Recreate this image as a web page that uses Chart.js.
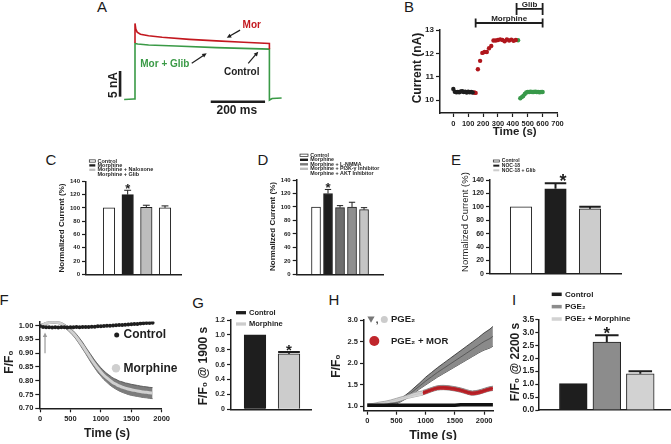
<!DOCTYPE html>
<html>
<head>
<meta charset="utf-8">
<title>Morphine KATP figure</title>
<script src="https://cdn.jsdelivr.net/npm/chart.js@4.4.1/dist/chart.umd.min.js"></script>
<style>
  html, body { margin: 0; padding: 0; background: #fff; }
  #fig { position: relative; width: 671px; height: 444px; overflow: hidden; background: #fff;
         font-family: "Liberation Sans", Arial, sans-serif; }
  #fig canvas { position: absolute; }
  .tag { position: absolute; width: 20px; text-align: center; font-size: 15px; line-height: 1; color: #1a1a1a; }
</style>
</head>
<body>
<div id="fig">
  <div class="tag" style="left:92px;top:-1px">A</div>
  <div class="tag" style="left:399px;top:-1px">B</div>
  <div class="tag" style="left:41px;top:152px">C</div>
  <div class="tag" style="left:253px;top:152px">D</div>
  <div class="tag" style="left:446px;top:152px">E</div>
  <div class="tag" style="left:-6px;top:292px">F</div>
  <div class="tag" style="left:188px;top:295px">G</div>
  <div class="tag" style="left:324px;top:292px">H</div>
  <div class="tag" style="left:504px;top:292px">I</div>
</div>
<script>
const FONT = '"Liberation Sans", Arial, sans-serif';
const INK = '#1e1e1e';
const RED = '#c3181f';
const GREEN = '#3a9a46';

// ===== A: example traces (time ms, current nA) =====
const aMorTime = [0, 0, 3, 8, 20, 50, 100, 200, 300, 400, 495, 495];
const aMorCurrent = [10.9, 14.7, 13.6, 13.0, 12.6, 12.3, 12.0, 11.6, 11.3, 11.05, 10.8, 9.7];
const aGlibTime = [-40, -5, 0, 0, 10, 50, 150, 300, 495, 495, 505, 540];
const aGlibCurrent = [-0.1, 0, 0, 10.8, 10.7, 10.5, 10.3, 10.0, 9.7, -0.2, 0.1, 0.2];
const aScaleTime = [279, 479];      // 200 ms bar
const aScaleCurrent = [0.45, 5.45]; // 5 nA bar

// ===== B: current vs time =====
const bCtrlTime = [0, 10, 20, 30, 40, 50, 60, 70, 80, 90, 100, 110, 120, 130];
const bCtrlCurrent = [10.48, 10.36, 10.34, 10.35, 10.34, 10.37, 10.38, 10.35, 10.36, 10.33, 10.36, 10.34, 10.35, 10.33];
const bMorTime = [140, 150, 165, 180, 195, 210, 225, 240, 255, 270, 285, 300, 315, 330, 345, 360, 375, 390, 405, 420];
const bMorCurrent = [10.33, 10.31, 11.32, 11.68, 12.02, 12.06, 12.06, 12.22, 12.32, 12.55, 12.55, 12.57, 12.60, 12.57, 12.52, 12.60, 12.55, 12.59, 12.54, 12.57];
const bGlibTime = [435, 450, 460, 470, 480, 490, 500, 510, 520, 530, 540, 550, 560, 570, 580, 590, 600];
const bGlibCurrent = [12.56, 10.08, 10.13, 10.18, 10.26, 10.33, 10.35, 10.35, 10.36, 10.35, 10.35, 10.36, 10.35, 10.35, 10.34, 10.35, 10.35];
const bMorphineWindow = [150, 600];
const bGlibWindow = [425, 600];
const bXTicks = [0, 100, 200, 300, 400, 500, 600, 700];
const bYTicks = [10, 11, 12, 13];

// ===== C, D, E: normalized current (%) =====
const normTicks = [0, 20, 40, 60, 80, 100, 120, 140];
const cGroups = ['Control', 'Morphine', 'Morphine + Naloxone', 'Morphine + Glib'];
const cValues = [100, 120, 101, 100];
const cErrors = [0, 6.5, 3, 3];
const cStars = [false, true, false, false];
const dGroups = ['Control', 'Morphine', 'Morphine + L-NMMA', 'Morphine + PI3K-γ Inhibitor', 'Morphine + AKT Inhibitor'];
const dValues = [100, 120, 99, 100, 96];
const dErrors = [0, 6, 3, 7, 3];
const dStars = [false, true, false, false, false];
const eGroups = ['Control', 'NOC-18', 'NOC-18 + Glib'];
const eValues = [100, 127, 97];
const eErrors = [0, 8, 3];
const eStars = [false, true, false];

// ===== F: F/F0 time course =====
const fTime = [0, 50, 100, 150, 200, 250, 300, 350, 400, 450, 500, 550, 600, 650, 700, 750, 800, 850, 900, 950,
  1000, 1050, 1100, 1150, 1200, 1250, 1300, 1350, 1400, 1450, 1500, 1550, 1600, 1650, 1700, 1750, 1800, 1850];
const fControl = [0.998, 0.995, 0.994, 0.994, 0.993, 0.994, 0.993, 0.994, 0.994, 0.993, 0.994, 0.994, 0.995, 0.994, 0.995, 0.995, 0.995, 0.996, 0.996, 0.997,
  0.997, 0.998, 0.999, 0.999, 1.000, 1.001, 1.002, 1.002, 1.003, 1.004, 1.005, 1.006, 1.006, 1.007, 1.008, 1.009, 1.009, 1.010];
const fMorphine = [1.000, 1.003, 1.008, 1.011, 1.012, 1.012, 1.011, 1.006, 0.999, 0.991, 0.982, 0.971, 0.958, 0.943, 0.927, 0.910, 0.893, 0.876, 0.860, 0.845,
  0.832, 0.820, 0.810, 0.801, 0.793, 0.787, 0.781, 0.777, 0.773, 0.770, 0.767, 0.765, 0.763, 0.761, 0.759, 0.758, 0.756, 0.755];
const fMorphineSem = [0.004, 0.004, 0.004, 0.004, 0.004, 0.004, 0.004, 0.005, 0.006, 0.007, 0.008, 0.009, 0.010, 0.011, 0.012, 0.012, 0.013, 0.014, 0.014, 0.015,
  0.015, 0.016, 0.016, 0.017, 0.017, 0.018, 0.018, 0.019, 0.019, 0.020, 0.020, 0.020, 0.020, 0.020, 0.020, 0.020, 0.020, 0.020];
const fXTicks = [0, 500, 1000, 1500, 2000];
const fYTicks = [0.70, 0.75, 0.80, 0.85, 0.90, 0.95, 1.00];

// ===== G: F/F0 @ 1900 s =====
const gGroups = ['Control', 'Morphine'];
const gValues = [1.0, 0.745];
const gErrors = [0, 0.025];
const gStars = [false, true];
const gTicks = [0, 0.2, 0.4, 0.6, 0.8, 1.0, 1.2];
const gTickLabels = ['0', '0.2', '0.4', '0.6', '0.8', '1.0', '1.2'];

// ===== H: PGE2 time course =====
const hTime = [0, 100, 200, 300, 400, 500, 600, 700, 800, 900, 1000, 1100, 1200, 1300, 1400, 1500, 1600, 1700, 1800, 1900, 2000, 2100, 2150];
const hPge = [1.02, 1.02, 1.02, 1.03, 1.05, 1.08, 1.16, 1.25, 1.36, 1.47, 1.58, 1.68, 1.78, 1.87, 1.96, 2.05, 2.14, 2.23, 2.32, 2.41, 2.50, 2.57, 2.62];
const hPgeSem = [0.02, 0.02, 0.02, 0.02, 0.03, 0.03, 0.04, 0.05, 0.06, 0.07, 0.09, 0.10, 0.11, 0.12, 0.13, 0.14, 0.15, 0.16, 0.17, 0.18, 0.20, 0.22, 0.23];
const hControl = [1.02, 1.02, 1.02, 1.02, 1.02, 1.02, 1.02, 1.02, 1.02, 1.02, 1.02, 1.02, 1.02, 1.02, 1.02, 1.02, 1.03, 1.03, 1.03, 1.03, 1.03, 1.03, 1.03];
const hPgeEarlyTime = [0, 100, 200, 300, 400, 500, 600, 700, 800, 900, 950];
const hPgeEarly = [1.03, 1.04, 1.06, 1.08, 1.11, 1.14, 1.18, 1.22, 1.26, 1.29, 1.30];
const hPgeEarlySem = [0.02, 0.02, 0.03, 0.03, 0.03, 0.04, 0.04, 0.04, 0.05, 0.05, 0.05];
const hMorTime = [950, 1000, 1100, 1200, 1300, 1400, 1500, 1600, 1700, 1800, 1900, 2000, 2100, 2150];
const hMor = [1.31, 1.33, 1.38, 1.42, 1.43, 1.42, 1.40, 1.37, 1.33, 1.30, 1.32, 1.36, 1.40, 1.41];
const hMorSem = [0.05, 0.05, 0.05, 0.05, 0.05, 0.05, 0.05, 0.05, 0.05, 0.05, 0.05, 0.05, 0.05, 0.05];
const hXTicks = [0, 500, 1000, 1500, 2000];
const hYTicks = [1.0, 1.5, 2.0, 2.5, 3.0];

// ===== I: F/F0 @ 2200 s =====
const iGroups = ['Control', 'PGE₂', 'PGE₂ + Morphine'];
const iValues = [1.02, 2.62, 1.40];
const iErrors = [0, 0.26, 0.1];
const iStars = [false, true, false];
const iTicks = [0, 0.5, 1.0, 1.5, 2.0, 2.5, 3.0, 3.5];

// ---------- helpers ----------
const fig = document.getElementById('fig');
const fnt = (s, w = 'bold') => `${w} ${s}px ${FONT}`;
const pts = (xs, ys) => xs.map((x, i) => ({ x, y: ys[i] }));
const band = (xs, m, e, sign) => xs.map((x, i) => ({ x, y: m[i] + sign * e[i] }));
const bars = vals => vals.map((y, i) => ({ x: i, y }));

Chart.defaults.font.family = FONT;
Chart.defaults.color = INK;

// free text, arrows, brackets, markers (page px or data coords)
const notes = {
  id: 'notes',
  afterDraw(chart, args, opts) {
    const ctx = chart.ctx, sx = chart.scales.x, sy = chart.scales.y;
    const ox = chart.canvas.offsetLeft, oy = chart.canvas.offsetTop;
    const pt = (it, x, y) => it.data ? [sx.getPixelForValue(x), sy.getPixelForValue(y)] : [x - ox, y - oy];
    (opts.items || []).forEach(it => {
      ctx.save();
      const col = it.color || INK;
      ctx.fillStyle = col;
      ctx.strokeStyle = col;
      ctx.lineWidth = it.width || 1.2;
      const [x, y] = pt(it, it.x, it.y);
      if (it.kind === 'text') {
        ctx.font = it.font;
        ctx.textAlign = it.align || 'center';
        ctx.textBaseline = 'middle';
        ctx.translate(x, y);
        if (it.rotate) ctx.rotate(it.rotate);
        ctx.fillText(it.text, 0, 0);
      } else if (it.kind === 'arrow') {
        const [x2, y2] = pt(it, it.x2, it.y2);
        const a = Math.atan2(y2 - y, x2 - x), h = it.head || 5;
        ctx.beginPath();
        ctx.moveTo(x, y);
        ctx.lineTo(x2 - Math.cos(a) * h * 0.6, y2 - Math.sin(a) * h * 0.6);
        ctx.stroke();
        ctx.beginPath();
        ctx.moveTo(x2, y2);
        ctx.lineTo(x2 - h * Math.cos(a - 0.45), y2 - h * Math.sin(a - 0.45));
        ctx.lineTo(x2 - h * Math.cos(a + 0.45), y2 - h * Math.sin(a + 0.45));
        ctx.closePath();
        ctx.fill();
      } else if (it.kind === 'bracket') {
        const [x2] = pt(it, it.x2, it.y);
        const t = it.tick || 4;
        ctx.beginPath();
        ctx.moveTo(x, y); ctx.lineTo(x2, y);
        ctx.moveTo(x, y - t); ctx.lineTo(x, y + t);
        ctx.moveTo(x2, y - t); ctx.lineTo(x2, y + t);
        ctx.stroke();
      } else if (it.kind === 'dot') {
        ctx.beginPath();
        ctx.arc(x, y, it.r, 0, Math.PI * 2);
        ctx.fill();
      } else if (it.kind === 'tri') {
        const r = it.r;
        ctx.beginPath();
        ctx.moveTo(x - r, y - r * 0.8);
        ctx.lineTo(x + r, y - r * 0.8);
        ctx.lineTo(x, y + r * 0.9);
        ctx.closePath();
        ctx.fill();
      } else if (it.kind === 'swatch') {
        ctx.fillRect(x, y - it.h / 2, it.w, it.h);
        if (it.outline) {
          ctx.lineWidth = 0.7;
          ctx.strokeStyle = INK;
          ctx.strokeRect(x, y - it.h / 2, it.w, it.h);
        }
      }
      ctx.restore();
    });
  }
};

// SEM bars + significance stars on bar datasets
const errorBars = {
  id: 'errorBars',
  afterDatasetsDraw(chart, args, opts) {
    const ctx = chart.ctx, sy = chart.scales.y;
    chart.data.datasets.forEach((ds, di) => {
      if (!ds.errors) return;
      chart.getDatasetMeta(di).data.forEach((bar, i) => {
        const v = ds.data[i].y, e = ds.errors[i];
        const top = sy.getPixelForValue(v + e);
        ctx.save();
        ctx.strokeStyle = INK;
        ctx.lineWidth = opts.lineWidth || 1.2;
        if (e > 0) {
          const half = bar.width * (opts.cap || 0.6) / 2;
          ctx.beginPath();
          ctx.moveTo(bar.x, bar.y);
          ctx.lineTo(bar.x, top);
          ctx.moveTo(bar.x - half, top);
          ctx.lineTo(bar.x + half, top);
          ctx.stroke();
        }
        if (ds.stars && ds.stars[i]) {
          const s = opts.starSize || 12;
          ctx.fillStyle = INK;
          ctx.font = fnt(s);
          ctx.textAlign = 'center';
          ctx.textBaseline = 'alphabetic';
          ctx.fillText('*', bar.x + (opts.starDx || 0), top - (opts.starGap || 3) + 0.42 * s);
        }
        ctx.restore();
      });
    });
  }
};

Chart.register(notes, errorBars);

function axis(min, max, values, labels, size, extra) {
  return Object.assign({
    type: 'linear', min, max,
    afterBuildTicks: s => { s.ticks = values.map(v => ({ value: v })); },
    ticks: { callback: (v, i) => labels[i], font: { family: FONT, size, weight: 'bold' }, color: INK,
             padding: 2, maxRotation: 0, autoSkip: false },
    grid: { drawOnChartArea: false, color: INK, tickColor: INK, tickLength: 4, tickWidth: 1.2 },
    border: { color: INK, width: 1.5 }
  }, extra || {});
}

function barAxis(min, max) {
  return { type: 'linear', min, max, offset: false, ticks: { display: false },
           grid: { display: false, offset: false }, border: { color: INK, width: 1.5 } };
}

function legendItems(labels, colors, k) {
  const out = [];
  labels.forEach((lab, i) => {
    const y = k.y + i * k.dy;
    if (colors[i]) out.push({ kind: 'swatch', x: k.x, y, w: k.w, h: k.h, color: colors[i], outline: colors[i] === '#ffffff' });
    out.push({ kind: 'text', text: lab, x: k.x + k.w + k.gap, y, align: 'left', font: k.font });
  });
  return out;
}

function addChart(box, plot, config) {
  const cv = document.createElement('canvas');
  cv.width = box.w;
  cv.height = box.h;
  cv.style.left = box.x + 'px';
  cv.style.top = box.y + 'px';
  cv.style.width = box.w + 'px';
  cv.style.height = box.h + 'px';
  fig.appendChild(cv);
  const o = config.options;
  o.responsive = false;
  o.animation = false;
  o.layout = { padding: { left: 0, top: plot.t - box.y, right: box.x + box.w - plot.r, bottom: 0 } };
  if (o.scales.y.display !== false) o.scales.y.afterFit = s => { s.width = plot.l - box.x; };
  if (o.scales.x.display !== false) o.scales.x.afterFit = s => { s.height = box.y + box.h - plot.b; };
  o.plugins = Object.assign({ legend: { display: false }, tooltip: { enabled: false } }, o.plugins || {});
  return new Chart(cv, config);
}

function barPanel(box, plot, xr, yAxis, values, errors, stars, colors, thick, errOpts, items) {
  return addChart(box, plot, {
    type: 'bar',
    data: { datasets: [{ data: bars(values), errors, stars, backgroundColor: colors,
                         borderColor: INK, borderWidth: 1, barThickness: thick, grouped: false }] },
    options: { scales: { x: barAxis(xr[0], xr[1]), y: yAxis },
               plugins: { errorBars: errOpts, notes: { items } } }
  });
}

// ---------- A ----------
addChart({ x: 100, y: 0, w: 200, h: 125 }, { l: 100, t: 0, r: 300, b: 125 }, {
  type: 'line',
  data: { datasets: [
    { data: pts(aMorTime, aMorCurrent), borderColor: RED, borderWidth: 1.6, pointRadius: 0 },
    { data: pts(aGlibTime, aGlibCurrent), borderColor: GREEN, borderWidth: 1.6, pointRadius: 0 },
    { data: aScaleCurrent.map(y => ({ x: -55, y })), borderColor: INK, borderWidth: 2.6, pointRadius: 0 },
    { data: aScaleTime.map(x => ({ x, y: -0.53 })), borderColor: INK, borderWidth: 2.6, pointRadius: 0 }
  ] },
  options: {
    scales: { x: { type: 'linear', display: false, min: -128.9, max: 607.7 },
              y: { type: 'linear', display: false, min: -5.06, max: 19.26 } },
    plugins: { notes: { items: [
      { kind: 'text', data: true, text: 'Mor', x: 430, y: 14.4, color: RED, font: fnt(10) },
      { kind: 'arrow', data: true, x: 387, y: 13.4, x2: 338, y2: 11.9 },
      { kind: 'text', data: true, text: 'Mor + Glib', x: 110, y: 6.75, color: GREEN, font: fnt(10) },
      { kind: 'arrow', data: true, x: 209, y: 6.95, x2: 264, y2: 8.9 },
      { kind: 'text', data: true, text: 'Control', x: 393, y: 5.3, font: fnt(10) },
      { kind: 'arrow', data: true, x: 417, y: 6.95, x2: 454, y2: 9.2 },
      { kind: 'text', data: true, text: '5 nA', x: -80, y: 2.7, rotate: -Math.PI / 2, font: fnt(12) },
      { kind: 'text', data: true, text: '200 ms', x: 375, y: -2.33, font: fnt(12) }
    ] } }
  }
});

// ---------- B ----------
addChart({ x: 405, y: 0, w: 170, h: 140 }, { l: 440, t: 30, r: 557.5, b: 113 }, {
  type: 'scatter',
  data: { datasets: [
    { data: pts(bCtrlTime, bCtrlCurrent), backgroundColor: INK, pointRadius: 2.2, borderWidth: 0 },
    { data: pts(bMorTime, bMorCurrent), backgroundColor: '#b0161c', pointRadius: 2.2, borderWidth: 0 },
    { data: pts(bGlibTime, bGlibCurrent), backgroundColor: '#38994a', pointRadius: 2.2, borderWidth: 0 }
  ] },
  options: {
    scales: {
      x: axis(-89.5, 700, bXTicks, bXTicks.map(String), 7.5),
      y: axis(9.45, 13, bYTicks, bYTicks.map(String), 8, {})
    },
    plugins: { notes: { items: [
      { kind: 'bracket', data: true, x: bMorphineWindow[0], x2: bMorphineWindow[1], y: 13.30, tick: 4.5, width: 1.8 },
      { kind: 'bracket', data: true, x: bGlibWindow[0], x2: bGlibWindow[1], y: 13.9, tick: 6, width: 1.8 },
      { kind: 'text', data: true, text: 'Morphine', x: (bMorphineWindow[0] + bMorphineWindow[1]) / 2, y: 13.48, font: fnt(8) },
      { kind: 'text', data: true, text: 'Glib', x: (bGlibWindow[0] + bGlibWindow[1]) / 2, y: 14.09, font: fnt(8) },
      { kind: 'text', text: 'Current (nA)', x: 418, y: 68, rotate: -Math.PI / 2, font: fnt(12) },
      { kind: 'text', text: 'Time (s)', x: 514.7, y: 131.7, font: fnt(11.5) }
    ] } }
  }
});

// ---------- C ----------
barPanel({ x: 40, y: 150, w: 150, h: 130 }, { l: 86, t: 181.3, r: 181, b: 276 }, [-1.232, 3.857],
  axis(0, 140, normTicks, normTicks.map(String), 6),
  cValues, cErrors, cStars, ['#ffffff', '#1e1e1e', '#bdbdbd', '#ffffff'], 11.5,
  { cap: 0.6, lineWidth: 1, starSize: 13, starGap: 2.8 },
  [{ kind: 'text', text: 'Normalized Current (%)', x: 62, y: 228, rotate: -Math.PI / 2, font: fnt(8) }]
    .concat(legendItems(cGroups, ['#ffffff', '#1e1e1e', '#bdbdbd', null],
      { x: 89.3, y: 161, dy: 4.4, w: 6, h: 2.3, gap: 2.2, font: fnt(5.5) })));

// ---------- D ----------
barPanel({ x: 250, y: 150, w: 140, h: 130 }, { l: 296.7, t: 180, r: 383, b: 275.7 }, [-1.608, 5.58],
  axis(0, 140, normTicks, normTicks.map(String), 6),
  dValues, dErrors, dStars, ['#ffffff', '#1e1e1e', '#6e6e6e', '#8f8f8f', '#c4c4c4'], 9,
  { cap: 0.7, lineWidth: 1, starSize: 13, starGap: 3 },
  [{ kind: 'text', text: 'Normalized Current (%)', x: 273, y: 226.5, rotate: -Math.PI / 2, font: fnt(8) }]
    .concat(legendItems(dGroups, ['#ffffff', '#1e1e1e', '#7a7a7a', '#bdbdbd', null],
      { x: 300, y: 155.3, dy: 4.5, w: 8, h: 2.4, gap: 2.2, font: fnt(5.3) })));

// ---------- E ----------
barPanel({ x: 455, y: 150, w: 175, h: 130 }, { l: 490, t: 180, r: 621.7, b: 275.7 }, [-0.899, 2.919],
  axis(0, 140, normTicks, normTicks.map(String), 7),
  eValues, eErrors, eStars, ['#ffffff', '#1e1e1e', '#cccccc'], 21.5,
  { cap: 1.0, lineWidth: 2, starSize: 18, starGap: 4.3, starDx: 7.5 },
  [{ kind: 'text', text: 'Normalized Current (%)', x: 465, y: 222, rotate: -Math.PI / 2, font: fnt(9.5, 'normal') }]
    .concat(legendItems(eGroups, ['#ffffff', '#1e1e1e', '#cccccc'],
      { x: 493.3, y: 161, dy: 4.65, w: 6, h: 2, gap: 2.5, font: fnt(5) })));

// ---------- F ----------
addChart({ x: 0, y: 290, w: 190, h: 150 }, { l: 39.3, t: 321.4, r: 161.7, b: 408.3 }, {
  type: 'line',
  data: { datasets: [
    { data: band(fTime, fMorphine, fMorphineSem, -1), borderColor: '#4a4a4a', borderWidth: 0.8, pointRadius: 0, tension: 0.3, order: 3 },
    { data: band(fTime, fMorphine, fMorphineSem, 1), borderColor: '#4a4a4a', borderWidth: 0.8, pointRadius: 0, tension: 0.3,
      fill: '-1', backgroundColor: '#7c7c7c', order: 2 },
    { data: pts(fTime, fMorphine), borderColor: '#d0d0d0', borderWidth: 3, pointRadius: 0, tension: 0.3, order: 1 },
    { data: pts(fTime, fControl), showLine: false, pointRadius: 2, pointBackgroundColor: INK, pointBorderWidth: 0, order: 0 }
  ] },
  options: {
    scales: {
      x: axis(-12, 2000, fXTicks, fXTicks.map(String), 7.5, {}),
      y: axis(0.70, 1.015, fYTicks, fYTicks.map(v => v.toFixed(2)), 7.5, {})
    },
    plugins: { notes: { items: [
      { kind: 'arrow', data: true, x: 82, y: 0.90, x2: 82, y2: 0.975, color: '#9a9a9a', head: 5, width: 1.2 },
      { kind: 'dot', x: 116.7, y: 335, r: 2.5, color: INK },
      { kind: 'text', text: 'Control', x: 123.5, y: 335, align: 'left', font: fnt(12) },
      { kind: 'dot', x: 116, y: 368.3, r: 4.2, color: '#cfcfcf' },
      { kind: 'text', text: 'Morphine', x: 123.5, y: 368.3, align: 'left', font: fnt(12) },
      { kind: 'text', text: 'F/F₀', x: 10, y: 362, rotate: -Math.PI / 2, font: fnt(12) },
      { kind: 'text', text: 'Time (s)', x: 107, y: 434, font: fnt(12) }
    ] } }
  }
});

// ---------- G ----------
barPanel({ x: 195, y: 290, w: 125, h: 150 }, { l: 231, t: 320, r: 311.7, b: 409.3 }, [-0.706, 1.668],
  axis(0, 1.2, gTicks, gTickLabels, 7),
  gValues, gErrors, gStars, ['#1e1e1e', '#cccccc'], 21.7,
  { cap: 1.0, lineWidth: 2, starSize: 15, starGap: 3.4 },
  [{ kind: 'text', text: 'F/F₀ @ 1900 s', x: 204, y: 366, rotate: -Math.PI / 2, font: fnt(12) }]
    .concat(legendItems(gGroups, ['#1e1e1e', '#cccccc'],
      { x: 236, y: 312.7, dy: 11.3, w: 10, h: 3.3, gap: 3, font: fnt(7.5) })));

// ---------- H ----------
addChart({ x: 330, y: 290, w: 175, h: 150 }, { l: 364, t: 320, r: 493.3, b: 410.7 }, {
  type: 'line',
  data: { datasets: [
    { data: band(hTime, hPge, hPgeSem, -1), borderColor: '#262626', borderWidth: 0.8, pointRadius: 0, cubicInterpolationMode: 'monotone', order: 9 },
    { data: band(hTime, hPge, hPgeSem, 1), borderColor: '#262626', borderWidth: 0.8, pointRadius: 0, cubicInterpolationMode: 'monotone',
      fill: '-1', backgroundColor: '#8a8a8a', order: 8 },
    { data: pts(hTime, hPge), borderColor: '#4d4d4d', borderWidth: 0.8, pointRadius: 0, cubicInterpolationMode: 'monotone', order: 7 },
    { data: band(hPgeEarlyTime, hPgeEarly, hPgeEarlySem, -1), borderColor: '#9a9a9a', borderWidth: 0.8, pointRadius: 0, cubicInterpolationMode: 'monotone', order: 6 },
    { data: band(hPgeEarlyTime, hPgeEarly, hPgeEarlySem, 1), borderColor: '#9a9a9a', borderWidth: 0.8, pointRadius: 0, cubicInterpolationMode: 'monotone',
      fill: '-1', backgroundColor: '#d4d4d4', order: 5 },
    { data: pts(hPgeEarlyTime, hPgeEarly), borderColor: '#c8c8c8', borderWidth: 1, pointRadius: 0, cubicInterpolationMode: 'monotone', order: 4 },
    { data: band(hMorTime, hMor, hMorSem, -1), borderColor: '#8a8a8a', borderWidth: 1, pointRadius: 0, cubicInterpolationMode: 'monotone', order: 3 },
    { data: band(hMorTime, hMor, hMorSem, 1), borderColor: '#8a8a8a', borderWidth: 1, pointRadius: 0, cubicInterpolationMode: 'monotone',
      fill: '-1', backgroundColor: '#c0262c', order: 2 },
    { data: pts(hMorTime, hMor), borderColor: '#b01e24', borderWidth: 1.5, pointRadius: 0, cubicInterpolationMode: 'monotone', order: 1 },
    { data: pts(hTime, hControl), borderColor: '#111111', borderWidth: 3.5, pointRadius: 0, order: 0 }
  ] },
  options: {
    scales: {
      x: axis(-56, 2157, hXTicks, hXTicks.map(String), 7.5, {}),
      y: axis(0.891, 3.0, hYTicks, hYTicks.map(v => v.toFixed(1)), 7.5, {})
    },
    plugins: { notes: { items: [
      { kind: 'tri', x: 371, y: 319.5, r: 3.6, color: '#777777' },
      { kind: 'text', text: ',', x: 377, y: 320.5, font: fnt(9.5) },
      { kind: 'dot', x: 384.3, y: 319.5, r: 3.5, color: '#cccccc' },
      { kind: 'text', text: 'PGE₂', x: 391, y: 319.5, align: 'left', font: fnt(9.5) },
      { kind: 'dot', x: 374.3, y: 341, r: 5, color: '#c0262c' },
      { kind: 'text', text: 'PGE₂ + MOR', x: 391, y: 341, align: 'left', font: fnt(9.5) },
      { kind: 'text', text: 'F/F₀', x: 337, y: 366, rotate: -Math.PI / 2, font: fnt(12) },
      { kind: 'text', text: 'Time (s)', x: 433, y: 436, font: fnt(12.5) }
    ] } }
  }
});

// ---------- I ----------
const iAxis = axis(0, 3.5, iTicks, iTicks.map(v => v.toFixed(1)), 8.5);
iAxis.ticks.padding = 1;
iAxis.grid.tickLength = 3;
barPanel({ x: 510, y: 290, w: 161, h: 150 }, { l: 538.3, t: 319.3, r: 670, b: 410 }, [-1.045, 2.887],
  iAxis,
  iValues, iErrors, iStars, ['#1e1e1e', '#8c8c8c', '#d2d2d2'], 27.7,
  { cap: 0.85, lineWidth: 2, starSize: 17, starGap: 4 },
  [{ kind: 'text', text: 'F/F₀ @ 2200 s', x: 516, y: 362, rotate: -Math.PI / 2, font: fnt(12) }]
    .concat(legendItems(iGroups, ['#1e1e1e', '#8c8c8c', '#d2d2d2'],
      { x: 551.7, y: 294.3, dy: 12.35, w: 10, h: 3.5, gap: 3.3, font: fnt(8) })));
</script>
</body>
</html>
